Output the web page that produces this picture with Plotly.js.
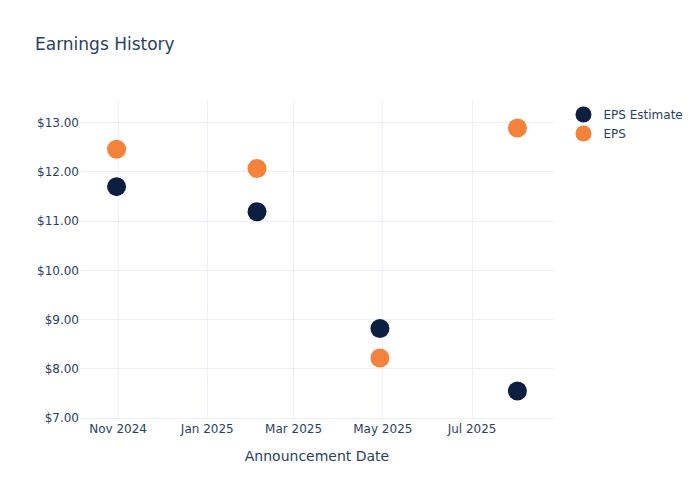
<!DOCTYPE html>
<html><head><meta charset="utf-8">
<script src="https://cdn.plot.ly/plotly-3.0.1.min.js"></script>
<style>body{margin:0;padding:0}#chart{width:700px;height:500px}</style>
</head><body><div id="chart"></div>
<script>
const dates = ["2024-10-31", "2025-02-04", "2025-04-29", "2025-08-01"];
const epsEstimate = [11.70, 11.19, 8.82, 7.55];
const epsActual = [12.46, 12.07, 8.22, 12.89];
const yTicks = [7, 8, 9, 10, 11, 12, 13];

const traces = [
  {x: dates, y: epsEstimate, name: "EPS Estimate", type: "scatter", mode: "markers",
   marker: {color: "#0c1f40", size: 19}},
  {x: dates, y: epsActual, name: "EPS", type: "scatter", mode: "markers",
   marker: {color: "#f5823a", size: 19}}
];
const layout = {
  width: 700, height: 500,
  paper_bgcolor: "#fff", plot_bgcolor: "#fff",
  font: {family: "DejaVu Sans, Verdana, sans-serif", color: "#2a3f5f", size: 12},
  title: {text: "Earnings History", x: 0.05, xanchor: "left", y: 0.912, yanchor: "middle", font: {size: 17}},
  margin: {l: 80, r: 146, t: 100, b: 82},
  xaxis: {title: {text: "Announcement Date", font: {size: 14}, standoff: 15}, type: "date",
    gridcolor: "#EBF0F8", linecolor: "#EBF0F8", zeroline: false,
    tickformat: "%b %Y", dtick: "M2", tick0: "2024-11-01",
    range: ["2024-10-06", "2025-08-26"], ticks: "", tickfont: {size: 12}},
  yaxis: {tickvals: yTicks, ticktext: yTicks.map(v => "$" + v.toFixed(2)),
    range: [7, 13.46], gridcolor: "#EBF0F8", zeroline: false, tickfont: {size: 12}},
  legend: {x: 1.02, y: 1, xanchor: "left", yanchor: "top", font: {size: 12}},
  showlegend: true
};
Plotly.newPlot("chart", traces, layout, {displayModeBar: false});
</script></body></html>
